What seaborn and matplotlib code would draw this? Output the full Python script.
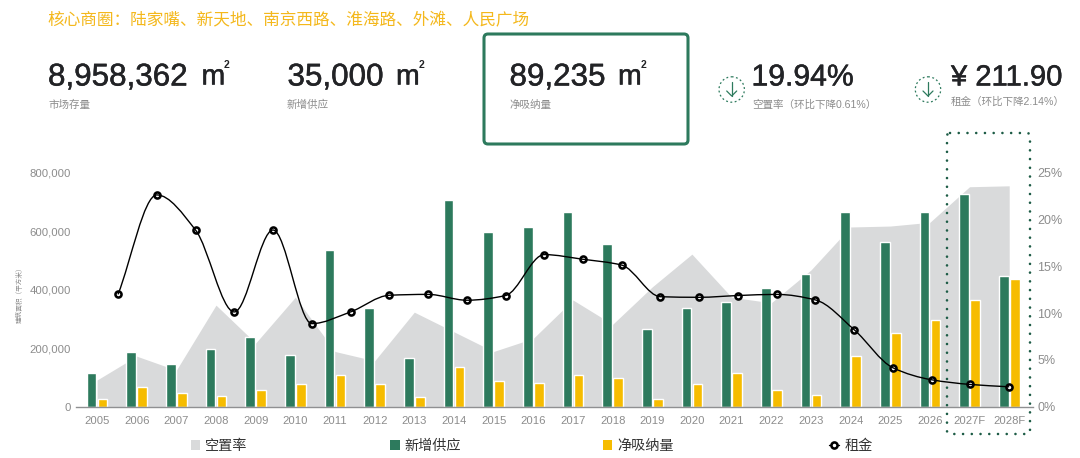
import numpy as np
import pandas as pd
import matplotlib
matplotlib.use('Agg')
import matplotlib.pyplot as plt
import matplotlib.patheffects as pe
from matplotlib.lines import Line2D
from matplotlib.patches import Circle, FancyBboxPatch, PathPatch, Rectangle
from matplotlib.path import Path
import seaborn as sns

# data
years = ['2005', '2006', '2007', '2008', '2009', '2010', '2011', '2012', '2013', '2014', '2015', '2016',
         '2017', '2018', '2019', '2020', '2021', '2022', '2023', '2024', '2025', '2026', '2027F', '2028F']
supply = [115000, 186000, 146000, 196000, 237000, 176000, 537000, 336000, 166000, 706000, 596000, 616000,
          667000, 555000, 266000, 336000, 357000, 407000, 455000, 667000, 562000, 667000, 726000, 446000]
absorption = [26000, 66000, 47000, 36000, 57000, 76000, 107000, 76000, 32000, 136000, 88000, 80000,
              107000, 97000, 26000, 76000, 115000, 56000, 40000, 173000, 251000, 295000, 365000, 435000]
vacancy = [2.85, 5.4, 3.9, 10.85, 6.8, 11.7, 5.9, 4.9, 10.1, 8.0, 5.9, 7.3,
           11.4, 8.8, 12.8, 16.3, 11.7, 11.1, 14.6, 19.2, 19.3, 19.7, 23.5, 23.6]
rent = [384, 724, 604, 324, 604, 284, 324, 381, 384, 364, 380, 520,
        504, 484, 376, 374, 380, 384, 365, 263, 133, 92, 76, 68]
left_ticks = [0, 200000, 400000, 600000, 800000]
right_ticks = [0, 5, 10, 15, 20, 25]

# full width colon and brackets
title_text = '核心商圈\uff1a陆家嘴、新天地、南京西路、淮海路、外滩、人民广场'
vacancy_note = '空置率\uff08环比下降0.61%\uff09'
rent_note = '租金\uff08环比下降2.14%\uff09'
axis_title = '建筑面积\uff08平方米\uff09'

GREEN = '#2D7A5D'
YELLOW = '#F6BC00'
GREY = '#D9DADB'
TICK = '#8C8C8C'
DARK = '#222326'

W, H = 1080, 458

sns.set_theme(style='white')
plt.rcParams['font.family'] = ['Liberation Sans', 'Noto Sans CJK SC', 'DejaVu Sans']


# pixel position helper for the header and legend
def px(x, y):
    return x / W, 1 - y / H


fig = plt.figure(figsize=(W / 100, H / 100), dpi=100, facecolor='white')

# axes: left for bars, right for vacancy area, hidden one for rent
left, right, top, bottom = 76, 1033, 172.7, 406.7
ax = fig.add_axes([left / W, 1 - bottom / H, (right - left) / W, (bottom - top) / H])
ax_r = ax.twinx()
ax_rent = ax.twinx()
ax_r.set_zorder(0)
ax.set_zorder(1)
ax_rent.set_zorder(2)
ax.patch.set_visible(False)
ax_rent.patch.set_visible(False)

# bars
bars = pd.DataFrame({'year': years * 2,
                     'value': supply + absorption,
                     'series': ['新增供应'] * len(years) + ['净吸纳量'] * len(years)})
sns.barplot(data=bars, x='year', y='value', hue='series', order=years,
            palette={'新增供应': GREEN, '净吸纳量': YELLOW}, width=0.556, gap=0.12,
            saturation=1, legend=False, ax=ax)
ax.set_xlim(-0.53, 23.6)
ax.set_ylim(0, 800000)
ax.set_yticks(left_ticks)
ax.set_yticklabels([f'{v:,}' for v in left_ticks])
ax.set_xlabel('')
ax.set_ylabel('')
ax.tick_params(axis='x', length=0, pad=7, labelsize=8.1, labelcolor=TICK)
ax.tick_params(axis='y', length=0, pad=3.8, labelsize=8.2, labelcolor=TICK)

# vacancy area
ax_r.fill_between(np.arange(len(years)), vacancy, 0, color=GREY, lw=0)
ax_r.set_ylim(0, 25)
ax_r.set_yticks(right_ticks)
ax_r.set_yticklabels([f'{v}%' for v in right_ticks])
ax_r.tick_params(axis='y', length=0, pad=3, labelsize=9, labelcolor=TICK)
ax_r.grid(False)

# rent line, its points sit on their own spacing
rent_x = np.linspace(0.53, 23, len(rent))
rent_y = np.array(rent, dtype=float)
slopes = np.diff(rent_y) / np.diff(rent_x)
tangents = np.zeros(len(rent))
for i in range(1, len(rent) - 1):
    if slopes[i - 1] * slopes[i] > 0:
        tangents[i] = 2 * slopes[i - 1] * slopes[i] / (slopes[i - 1] + slopes[i])
tangents[0] = slopes[0]
tangents[-1] = slopes[-1]
verts = [(rent_x[0], rent_y[0])]
codes = [Path.MOVETO]
for i in range(len(rent) - 1):
    h = (rent_x[i + 1] - rent_x[i]) / 3
    verts += [(rent_x[i] + h, rent_y[i] + h * tangents[i]),
              (rent_x[i + 1] - h, rent_y[i + 1] - h * tangents[i + 1]),
              (rent_x[i + 1], rent_y[i + 1])]
    codes += [Path.CURVE4] * 3
sns.scatterplot(x=rent_x, y=rent_y, s=19, color='white', edgecolor='black', linewidth=1.85, zorder=3, ax=ax_rent)
ax_rent.add_patch(PathPatch(Path(verts, codes), fc='none', ec='black', lw=1.0, zorder=4))
ax_rent.set_ylim(0, 800)
ax_rent.set_yticks([])
ax_rent.grid(False)

for a in (ax, ax_r, ax_rent):
    for side in ('top', 'left', 'right', 'bottom'):
        a.spines[side].set_visible(False)
ax.spines['bottom'].set_visible(True)
ax.spines['bottom'].set_color('#8F9092')
ax.spines['bottom'].set_linewidth(1.0)

# header
fig.text(*px(47.5, 20), title_text, color='#F4B81C', fontsize=12, va='center', ha='left')


def big_number(x0, label, size=22.6, x_m=None, x_sup=None):
    t = fig.text(*px(x0, 77.5), label, color=DARK, fontsize=size, va='center', ha='left')
    t.set_path_effects([pe.withStroke(linewidth=0.35, foreground=DARK)])
    if x_m is not None:
        m = fig.text(*px(x_m, 77.5), 'm', color=DARK, fontsize=20.5, va='center', ha='left')
        m.set_path_effects([pe.withStroke(linewidth=0.35, foreground=DARK)])
        fig.text(*px(x_sup, 65.5), '2', color=DARK, fontsize=7.5, va='center', ha='center', fontweight='bold')


big_number(48, '8,958,362', x_m=201.5, x_sup=226.5)
big_number(287.5, '35,000', x_m=396, x_sup=421.5)
big_number(509.5, '89,235', x_m=618, x_sup=643.5)
big_number(751.5, '19.94%', size=21.7)
big_number(951, '¥ 211.90', size=21)

for sx, sy, label in [(48, 105, '市场存量'), (287, 105, '新增供应'), (509, 105, '净吸纳量'),
                      (752, 105, vacancy_note), (950.5, 102, rent_note)]:
    fig.text(*px(sx, sy), label, color=TICK, fontsize=7.6, va='center', ha='left')

# highlighted box and the forecast box, in pixel units
overlay = fig.add_axes([0, 0, 1, 1], zorder=5)
overlay.set_xlim(0, W)
overlay.set_ylim(H, 0)
overlay.axis('off')
overlay.patch.set_visible(False)

overlay.add_patch(FancyBboxPatch((484, 34), 204, 110, boxstyle='round,pad=0,rounding_size=4',
                                 fc='none', ec=GREEN, lw=2.2))
dots = FancyBboxPatch((947, 133), 83, 301, boxstyle='round,pad=0,rounding_size=3', fc='none', ec='#1D5C46',
                      lw=1.9, linestyle=(0, (0.01, 3.3)))
dots.set_capstyle('round')
overlay.add_patch(dots)

for cx in (731.7, 928):
    overlay.add_patch(Circle((cx, 89.5), 12.7, fc='none', ec=GREEN, lw=0.9, linestyle=(0, (1.5, 2))))
    overlay.add_line(Line2D([cx, cx], [82, 96], color=GREEN, lw=0.9))
    overlay.add_line(Line2D([cx - 5, cx, cx + 5], [91, 96, 91], color=GREEN, lw=0.9))

# y axis title
fig.text(*px(20.7, 293), axis_title, color=TICK, fontsize=4.8, rotation=90, va='center', ha='center')

# legend
overlay.add_patch(Rectangle((190.7, 440), 9.5, 9.5, fc=GREY, lw=0))
overlay.add_patch(Rectangle((390, 440), 9.5, 9.5, fc=GREEN, lw=0))
overlay.add_patch(Rectangle((602.7, 440), 9.5, 9.5, fc=YELLOW, lw=0))
overlay.add_line(Line2D([829, 839], [445, 445], color='black', lw=1.0))
overlay.plot([834], [445], marker='o', ms=4.4, mfc='white', mec='black', mew=1.85)
for tx, label in [(205, '空置率'), (404, '新增供应'), (617, '净吸纳量'), (845, '租金')]:
    overlay.text(tx, 446, label, color='#333333', fontsize=10.2, va='center', ha='left')

plt.savefig('out.png', dpi=100, facecolor='white')
